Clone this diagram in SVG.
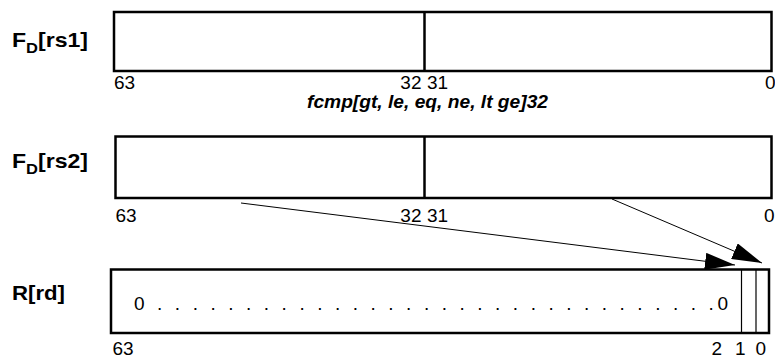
<svg xmlns="http://www.w3.org/2000/svg" width="775" height="358" viewBox="0 0 775 358">
<style>
.box{fill:#fff;stroke:#000;stroke-width:2.5}
.div{stroke:#000;stroke-width:2.5}
.thin{stroke:#000;stroke-width:1.2}
.lbl{font-family:"Liberation Sans",Arial,sans-serif;font-weight:bold;font-size:21px;fill:#000}
.sub{font-size:15px}
.bit{font-family:"Liberation Sans",Arial,sans-serif;font-size:19px;fill:#000}
.op{font-family:"Liberation Sans",Arial,sans-serif;font-size:18px;font-weight:bold;font-style:italic;fill:#000}
.conn{stroke:#000;stroke-width:1;fill:none}
</style>
<defs>
<marker id="ah" markerWidth="30" markerHeight="17" refX="30" refY="8.5" orient="auto" markerUnits="userSpaceOnUse">
<path d="M0,0 L30,8.5 L0,17 z" fill="#000"/>
</marker>
</defs>
<g id="rs1">
<text class="lbl" x="12" y="47" textLength="76" lengthAdjust="spacingAndGlyphs">F<tspan class="sub" dy="6">D</tspan><tspan dy="-6">[rs1]</tspan></text>
<rect class="box" x="114" y="12" width="657.5" height="59"/>
<line class="div" x1="424.5" y1="12" x2="424.5" y2="71"/>
<text class="bit" x="114" y="89">63</text>
<text class="bit" x="421.5" y="89" text-anchor="end">32</text>
<text class="bit" x="427" y="89">31</text>
<text class="bit" x="775.5" y="89" text-anchor="end">0</text>
<text class="op" x="307" y="108" textLength="241" lengthAdjust="spacingAndGlyphs">fcmp[gt, le, eq, ne, lt ge]32</text>
</g>
<g id="rs2">
<text class="lbl" x="12" y="168" textLength="76" lengthAdjust="spacingAndGlyphs">F<tspan class="sub" dy="6">D</tspan><tspan dy="-6">[rs2]</tspan></text>
<rect class="box" x="115.5" y="136.5" width="656" height="61.5"/>
<line class="div" x1="424.5" y1="136.5" x2="424.5" y2="198"/>
<text class="bit" x="115.5" y="222">63</text>
<text class="bit" x="421.5" y="222" text-anchor="end">32</text>
<text class="bit" x="427" y="222">31</text>
<text class="bit" x="774.5" y="222" text-anchor="end">0</text>
</g>
<g id="rd">
<text class="lbl" x="12" y="300" textLength="53" lengthAdjust="spacingAndGlyphs">R[rd]</text>
<rect class="box" x="111" y="269.5" width="658" height="63.5"/>
<line class="thin" x1="741.5" y1="269.5" x2="741.5" y2="333"/>
<line class="thin" x1="756" y1="269.5" x2="756" y2="333"/>
<text class="bit" x="134" y="310" textLength="594" lengthAdjust="spacing">0 . . . . . . . . . . . . . . . . . . . . . . . . . . . . . . . .0</text>
<text class="bit" x="112.5" y="355">63</text>
<text class="bit" x="711.5" y="355">2</text>
<text class="bit" x="735" y="355">1</text>
<text class="bit" x="755.5" y="355">0</text>
</g>
<g id="connectors">
<line class="conn" x1="241" y1="203" x2="735" y2="265" marker-end="url(#ah)"/>
<line class="conn" x1="612" y1="199" x2="762" y2="263" marker-end="url(#ah)"/>
</g>
</svg>
